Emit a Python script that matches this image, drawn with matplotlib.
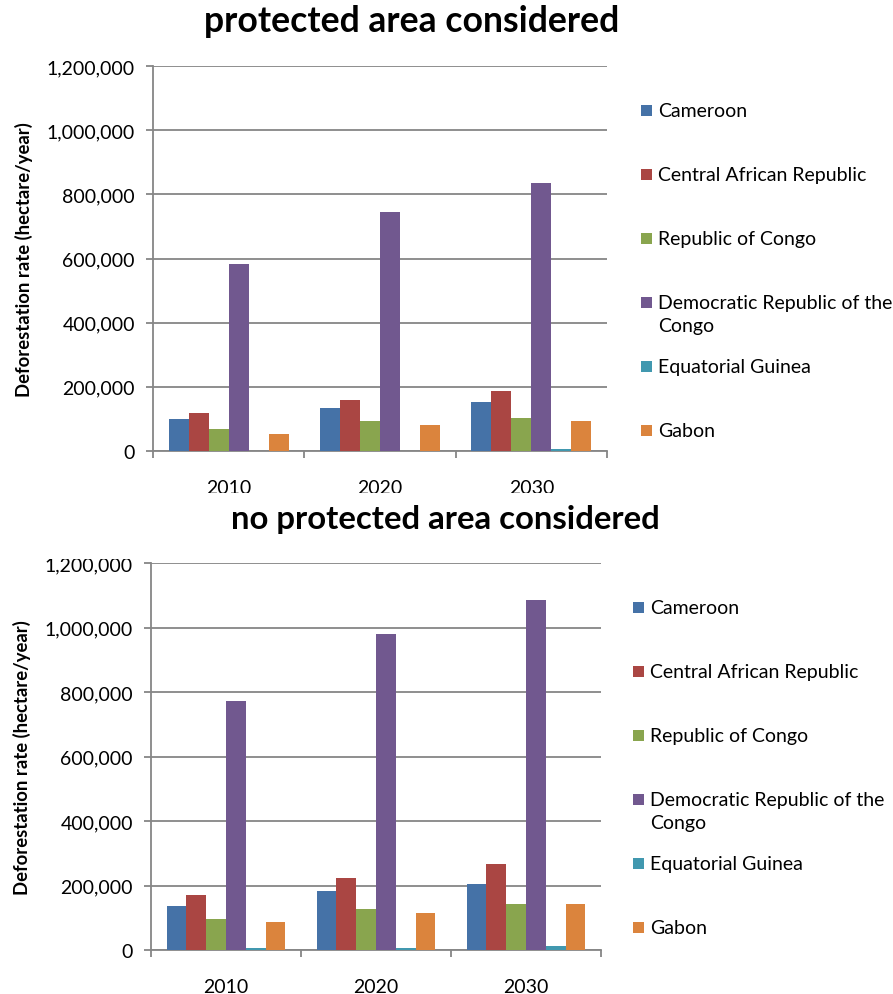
import numpy as np
import matplotlib
matplotlib.use("Agg")
import matplotlib.pyplot as plt
from matplotlib.patches import Rectangle
from matplotlib.ticker import FuncFormatter

plt.rcParams['font.family'] = ['Lato', 'DejaVu Sans']

# years on the x axis and the countries in each group
years = ["2010", "2020", "2030"]
countries = ["Cameroon", "Central African Republic", "Republic of Congo",
             "Democratic Republic of the\nCongo", "Equatorial Guinea", "Gabon"]
colors = ["#4572A7", "#AA4643", "#89A54E", "#71588F", "#4198AF", "#DB843D"]

# deforestation rate (hectare/year), protected areas taken into account
prot_cameroon = [100000, 134000, 154000]
prot_car = [118000, 158000, 187000]
prot_congo = [70000, 93000, 104000]
prot_drc = [583000, 746000, 836000]
prot_eqguinea = [1000, 1500, 5000]
prot_gabon = [54000, 80000, 93000]

# same, without protected areas
noprot_cameroon = [135000, 182000, 205000]
noprot_car = [171000, 224000, 266000]
noprot_congo = [95000, 126000, 142000]
noprot_drc = [771000, 981000, 1085000]
noprot_eqguinea = [7000, 6000, 11000]
noprot_gabon = [86000, 116000, 142000]

protected = [prot_cameroon, prot_car, prot_congo, prot_drc, prot_eqguinea, prot_gabon]
unprotected = [noprot_cameroon, noprot_car, noprot_congo, noprot_drc, noprot_eqguinea, noprot_gabon]

W, H = 893, 995
fig = plt.figure(figsize=(W / 100, H / 100), dpi=100)


def px(x, y):
    # pixel position -> figure fraction
    return x / W, 1 - y / H


def draw_panel(rect, series, legend_x, legend_y):
    left, top, right, bottom = rect
    x0, y0 = px(left, bottom)
    x1, y1 = px(right, top)
    ax = fig.add_axes([x0, y0, x1 - x0, y1 - y0])
    pos = np.arange(1, len(years) + 1)
    bw = 0.132
    for i, vals in enumerate(series):
        ax.bar(pos + (i - 2.5) * bw, vals, bw, color=colors[i], edgecolor='none', zorder=3)
    ax.set_xlim(0.5, 3.5)
    ax.set_ylim(0, 1200000)
    ax.set_yticks(np.arange(0, 1200001, 200000))
    ax.yaxis.set_major_formatter(FuncFormatter(lambda v, p: f"{int(v):,}"))
    ax.grid(axis='y', color='#868686', linewidth=1.3, zorder=0)
    for s in ['top', 'right']:
        ax.spines[s].set_visible(False)
    for s in ['left', 'bottom']:
        ax.spines[s].set_color('#868686')
        ax.spines[s].set_linewidth(1.3)
    ax.set_xticks([0.5, 1.5, 2.5, 3.5])
    ax.set_xticklabels([])
    ax.set_xticks(pos, minor=True)
    ax.set_xticklabels(years, minor=True)
    ax.tick_params(axis='x', which='major', length=5, width=1.3, color='#868686', direction='out')
    ax.tick_params(axis='x', which='minor', length=0, pad=20, labelsize=14)
    ax.tick_params(axis='y', length=5, width=1.3, color='#868686', pad=8, labelsize=14)
    ax.set_ylabel("Deforestation rate (hectare/year)", fontsize=13.3, fontweight='bold', labelpad=10)

    # legend entries at a fixed step, two-line names hang below
    for i, name in enumerate(countries):
        ly = legend_y + i * 64
        sx, sy = px(legend_x, ly + 5.5)
        fig.add_artist(Rectangle((sx, sy), 11 / W, 11 / H, transform=fig.transFigure,
                                 facecolor=colors[i], edgecolor='none'))
        tx, ty = px(legend_x + 17, ly - 8)
        fig.text(tx, ty, name, fontsize=14, va='top', ha='left', linespacing=1.45)
    return ax


ax1 = draw_panel((153, 67, 607, 452), protected, 641, 111)
ax2 = draw_panel((151, 564, 601, 951), unprotected, 633, 608)

# the lower chart sits over the bottom of the upper year labels
bx, by = px(0, 560)
fig.add_artist(Rectangle((bx, by), 1, px(0, 494)[1] - by, transform=fig.transFigure,
                         facecolor='white', edgecolor='none', zorder=5))

tx, ty = px(412, 22)
fig.text(tx, ty, "protected area considered", fontsize=25.6, fontweight='bold',
         ha='center', va='center', zorder=6)
tx, ty = px(445, 520)
fig.text(tx, ty, "no protected area considered", fontsize=23.7, fontweight='bold',
         ha='center', va='center', zorder=6)

fig.savefig("out.png", dpi=100)
